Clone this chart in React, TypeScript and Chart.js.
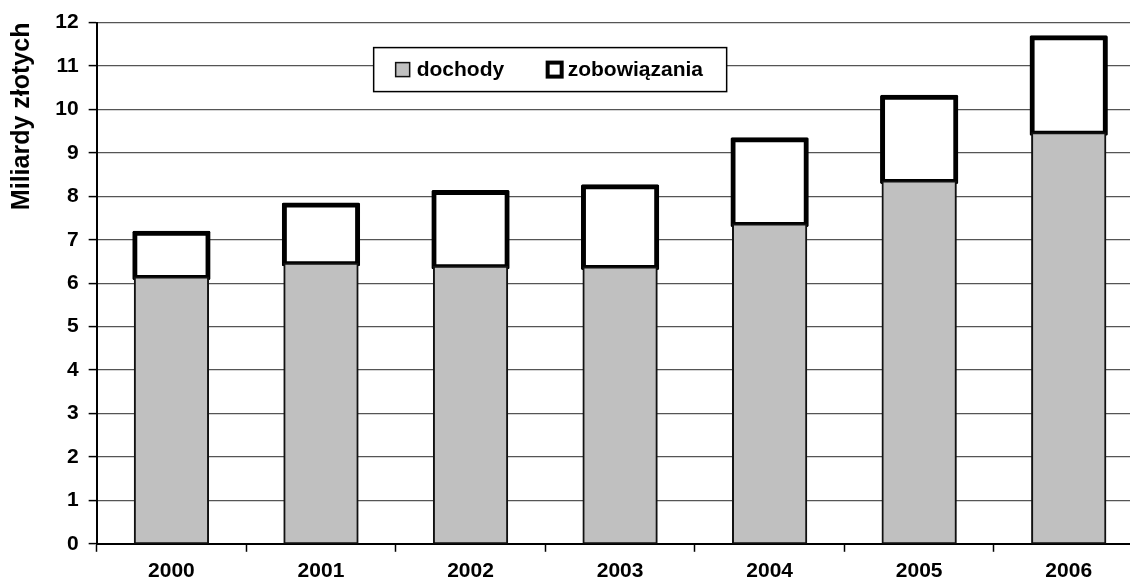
import React, { useEffect, useRef } from 'react';
import { Chart, registerables } from 'chart.js';

Chart.register(...registerables);

// ---- data ----
const years = ['2000', '2001', '2002', '2003', '2004', '2005', '2006'];
const dochody = [6.13, 6.45, 6.38, 6.36, 7.35, 8.34, 9.45];
const zobowiazania = [1.02, 1.35, 1.71, 1.86, 1.95, 1.94, 2.2];
const seriesNames = ['dochody', 'zobowiązania'];
const axisTitle = 'Miliardy złotych';
const yMin = 0;
const yMax = 12;
const yStep = 1;

const FONT = '"Liberation Sans", Arial, Helvetica, sans-serif';

const boxLegend = {
  id: 'boxLegend',
  afterDraw(chart: any) {
    const ctx = chart.ctx as CanvasRenderingContext2D;
    const a = chart.chartArea;
    const x = a.left + 277;
    const y = a.top + 25;
    const w = 353;
    const h = 44;
    const cy = y + h / 2;
    ctx.save();
    ctx.fillStyle = '#ffffff';
    ctx.fillRect(x, y, w, h);
    ctx.lineWidth = 1.5;
    ctx.strokeStyle = '#000';
    ctx.strokeRect(x, y, w, h);

    // item 1: gray swatch
    ctx.fillStyle = '#c0c0c0';
    ctx.fillRect(x + 22, cy - 7, 14, 14);
    ctx.lineWidth = 1.5;
    ctx.strokeStyle = '#111';
    ctx.strokeRect(x + 22, cy - 7, 14, 14);

    ctx.font = `bold 21px ${FONT}`;
    ctx.textBaseline = 'middle';
    ctx.textAlign = 'left';
    ctx.fillStyle = '#000';
    ctx.fillText(chart.data.datasets[0].label, x + 43, cy + 1);

    // item 2: white swatch with thick black border
    ctx.fillStyle = '#000';
    ctx.fillRect(x + 172, cy - 9, 18, 18);
    ctx.fillStyle = '#fff';
    ctx.fillRect(x + 176, cy - 5, 10, 10);

    ctx.fillStyle = '#000';
    ctx.fillText(chart.data.datasets[1].label, x + 194, cy + 1);
    ctx.restore();
  },
};

export default function App() {
  const ref = useRef<HTMLCanvasElement | null>(null);

  useEffect(() => {
    if (!ref.current) return;
    const chart = new Chart(ref.current, {
      type: 'bar',
      data: {
        labels: years,
        datasets: [
          {
            label: seriesNames[0],
            data: dochody,
            backgroundColor: '#c0c0c0',
            borderColor: '#111',
            borderWidth: 2,
            borderSkipped: false,
            inflateAmount: 1,
            barPercentage: 0.49,
            categoryPercentage: 1,
          } as any,
          {
            label: seriesNames[1],
            data: zobowiazania,
            backgroundColor: '#ffffff',
            borderColor: '#000',
            borderWidth: 5,
            borderSkipped: false,
            inflateAmount: 2.5,
            borderRadius: 1.5,
            barPercentage: 0.49,
            categoryPercentage: 1,
          } as any,
        ],
      },
      options: {
        animation: false,
        responsive: true,
        maintainAspectRatio: false,
        layout: { padding: { left: 0, right: 6.5, top: 22, bottom: 0 } },
        plugins: {
          legend: { display: false },
          tooltip: { enabled: false },
        },
        scales: {
          x: {
            stacked: true,
            grid: {
              display: true,
              drawOnChartArea: false,
              drawTicks: true,
              tickLength: 8,
              tickColor: '#000',
              tickWidth: 1.5,
              offset: true,
            } as any,
            border: { display: true, color: '#000', width: 2 },
            ticks: {
              color: '#000',
              font: { family: FONT, size: 21, weight: 'bold' },
              padding: 7,
              maxRotation: 0,
              autoSkip: false,
            },
          },
          y: {
            stacked: true,
            min: yMin,
            max: yMax,
            grid: {
              color: '#555',
              lineWidth: 1.2,
              tickLength: 8,
              tickColor: '#000',
              tickWidth: 1.5,
            } as any,
            border: { display: true, color: '#000', width: 2 },
            ticks: {
              stepSize: yStep,
              color: '#000',
              font: { family: FONT, size: 21, weight: 'bold' },
              padding: 10,
            },
            title: {
              display: true,
              text: axisTitle,
              color: '#000',
              align: 'end',
              font: { family: FONT, size: 25, weight: 'bold' },
              padding: { top: 7, bottom: 8.3 },
            },
          },
        },
      },
      plugins: [boxLegend],
    });
    return () => chart.destroy();
  }, []);

  return (
    <div
      style={{
        position: 'absolute',
        left: 0,
        top: 0,
        width: 1130,
        height: 583,
        overflow: 'hidden',
        background: '#fff',
      }}
    >
      <div style={{ position: 'relative', width: 1150, height: 591 }}>
        <canvas ref={ref} />
      </div>
    </div>
  );
}
